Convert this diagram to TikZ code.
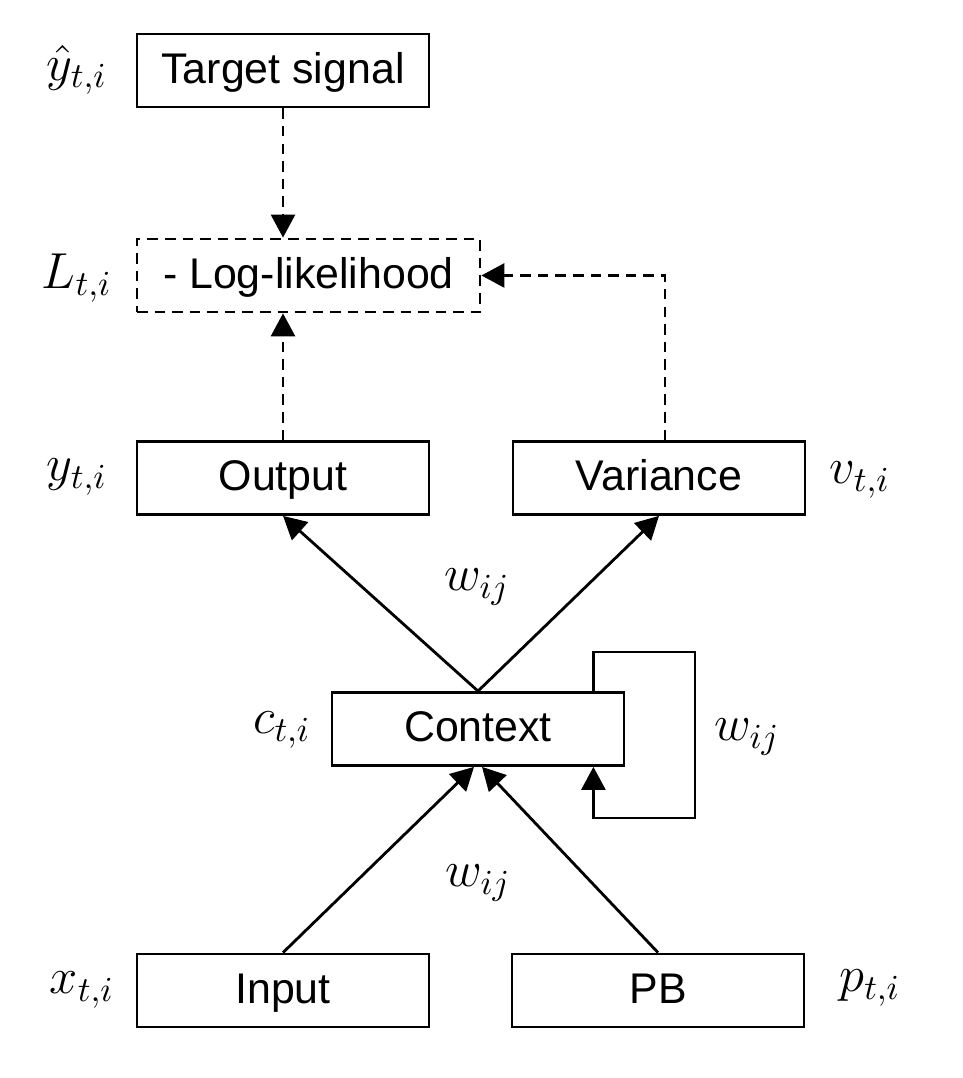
\documentclass[tikz,border=0pt]{standalone}
\usepackage{fontspec}
\setmainfont{Liberation Sans}
\usepackage{tikz}
\usetikzlibrary{arrows.meta,positioning}

\tikzset{
  unit/.style={draw, line width=0.8pt, minimum width=2.92cm, minimum height=0.73cm,
               inner sep=0pt, text height=0.716em, text depth=0pt,
               font=\fontsize{12.2}{14}\selectfont},
  lossunit/.style={unit, dash pattern=on 3pt off 2pt, minimum width=3.43cm},
  varlabel/.style={inner sep=0pt, font=\fontsize{14.4}{17}\selectfont},
  conn/.style={line width=0.8pt, -{Triangle[length=2.3mm,width=2.4mm]}},
  dconn/.style={conn, dash pattern=on 3pt off 2pt}
}

\begin{document}
\begin{tikzpicture}[scale=1.0]
  \useasboundingbox (0,0) rectangle (9.62,10.78);

  \node[unit] (target) at (2.83,10.075) {Target signal};      % Target box
  \node[lossunit] (loglik) at (3.085,8.025) {- Log-likelihood}; % Loss box
  \node[unit] (output) at (2.83,6.00) {Output};               % Output box
  \node[unit] (variance) at (6.59,6.00) {Variance};           % Variance box
  \node[unit] (context) at (4.78,3.49) {Context};             % Context box
  \node[unit] (input) at (2.83,0.875) {Input};                % Input box
  \node[unit] (pb) at (6.58,0.875) {PB};                      % PB box

  \node[varlabel] (yhat) at (0.77,10.08) {$\hat{y}_{t,i}$};   % Labels
  \node[varlabel] (lval) at (0.77,8.00) {$L_{t,i}$};
  \node[varlabel] (yval) at (0.77,6.01) {$y_{t,i}$};
  \node[varlabel] (vval) at (8.60,5.98) {$v_{t,i}$};
  \node[varlabel] (cval) at (2.82,3.48) {$c_{t,i}$};
  \node[varlabel] (xval) at (0.82,0.88) {$x_{t,i}$};
  \node[varlabel] (pval) at (8.70,0.90) {$p_{t,i}$};

  \node[varlabel] (wout) at (4.77,4.91) {$w_{ij}$};           % Weight labels
  \node[varlabel] (wrec) at (7.47,3.41) {$w_{ij}$};
  \node[varlabel] (win) at (4.78,1.95) {$w_{ij}$};

  \coordinate (looptop) at (6.95,4.26);                       % Recurrent loop corners
  \coordinate (loopbot) at (6.95,2.60);

  \draw[dconn] (target.south) -- (target.south |- loglik.north);   % Target to loss
  \draw[dconn] (output.north) -- (output.north |- loglik.south);   % Output to loss
  \draw[dconn] ([xshift=0.06cm]variance.north) |- (loglik.east);   % Variance to loss

  \draw[conn] (context.north) -- (output.south);              % Context to output
  \draw[conn] (context.north) -- (variance.south);            % Context to variance

  \draw[conn] (input.north) -- ([xshift=-0.04cm]context.south);  % Input to context
  \draw[conn] (pb.north) -- ([xshift=0.04cm]context.south);      % PB to context

  \draw[conn] ([xshift=-0.32cm]context.north east) |- (looptop) -- (loopbot)
      -| ([xshift=-0.32cm]context.south east);                % Recurrent loop
\end{tikzpicture}
\end{document}
